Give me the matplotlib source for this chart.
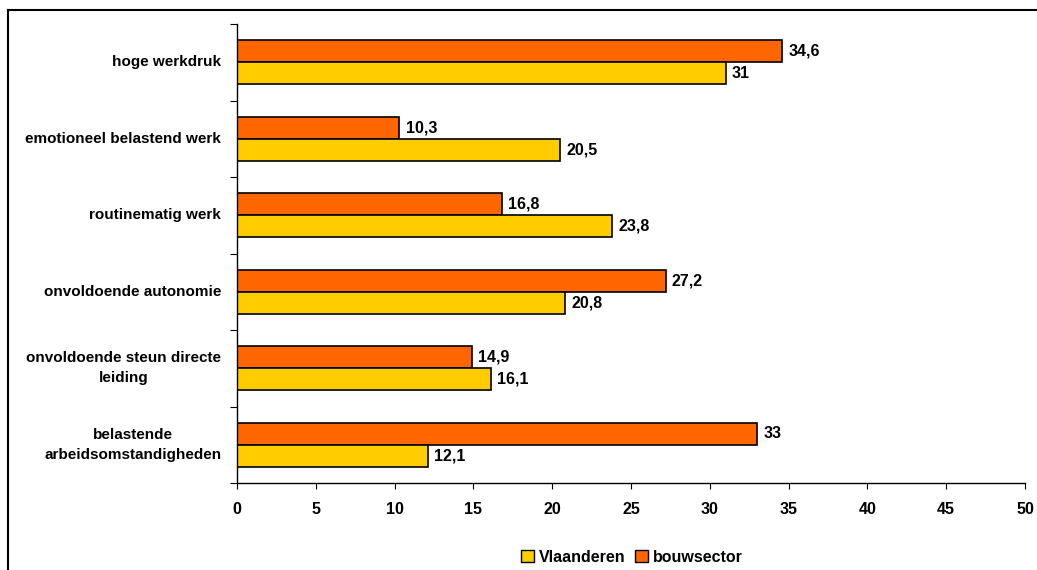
import matplotlib
matplotlib.use("Agg")
import matplotlib.pyplot as plt
from matplotlib.lines import Line2D
from matplotlib.patches import Patch
import numpy as np

categories = [
    "hoge werkdruk",
    "emotioneel belastend werk",
    "routinematig werk",
    "onvoldoende autonomie",
    "onvoldoende steun directe\nleiding",
    "belastende\narbeidsomstandigheden",
]
vlaanderen = [31, 20.5, 23.8, 20.8, 16.1, 12.1]
bouwsector = [34.6, 10.3, 16.8, 27.2, 14.9, 33]
x_ticks = [0, 5, 10, 15, 20, 25, 30, 35, 40, 45, 50]

YELLOW = "#FFCC00"
ORANGE = "#FF6600"

plt.rcParams["font.family"] = ["Liberation Sans Narrow", "Liberation Sans", "DejaVu Sans"]
plt.rcParams["font.weight"] = "bold"


def fmt(v):
    s = f"{v:g}"
    return s.replace(".", ",")


fig = plt.figure(figsize=(10.37, 5.70), dpi=100)
ax = fig.add_axes([237 / 1037, 1 - 483 / 570, (1025 - 237) / 1037, (483 - 24) / 570])

n = len(categories)
pos = np.arange(n)[::-1]
h = 0.29
ax.barh(pos + h / 2, bouwsector, height=h, color=ORANGE, edgecolor="black", linewidth=1.2)
ax.barh(pos - h / 2, vlaanderen, height=h, color=YELLOW, edgecolor="black", linewidth=1.2)

for p, v in zip(pos, bouwsector):
    ax.text(v + 0.4, p + h / 2, fmt(v), va="center", ha="left", fontsize=11.5, fontweight="bold")
for p, v in zip(pos, vlaanderen):
    ax.text(v + 0.4, p - h / 2, fmt(v), va="center", ha="left", fontsize=11.5, fontweight="bold")

ax.set_xlim(0, 50)
ax.set_ylim(-0.5, n - 0.5)
ax.set_xticks(x_ticks)
ax.set_xticklabels([str(t) for t in x_ticks], fontsize=11.5, fontweight="bold")
ax.tick_params(axis="x", direction="out", length=4, pad=10)

# category ticks sit between groups, labels at group centres
ax.set_yticks(np.arange(-0.5, n, 1.0))
ax.set_yticklabels([])
ax.tick_params(axis="y", direction="out", length=5)
for p, c in zip(pos, categories):
    ax.text(-1.0, p, c, ha="right", va="center", multialignment="center",
            fontsize=11, fontweight="bold", linespacing=1.5)

for s in ["top", "right"]:
    ax.spines[s].set_visible(False)
for s in ["left", "bottom"]:
    ax.spines[s].set_linewidth(1.0)

handles = [
    Patch(facecolor=YELLOW, edgecolor="black", label="Vlaanderen"),
    Patch(facecolor=ORANGE, edgecolor="black", label="bouwsector"),
]
fig.legend(handles=handles, loc="center", bbox_to_anchor=(632 / 1037, 1 - 557 / 570),
           ncol=2, frameon=False, handlelength=0.8, handleheight=0.8,
           handletextpad=0.3, columnspacing=0.6, prop={"weight": "bold", "size": 11.5})

# outer frame (left and top edges visible in the crop)
fig.add_artist(Line2D([8 / 1037, 8 / 1037], [0, 1 - 10 / 570], transform=fig.transFigure,
                      color="black", linewidth=1.5))
fig.add_artist(Line2D([8 / 1037, 1], [1 - 10 / 570, 1 - 10 / 570], transform=fig.transFigure,
                      color="black", linewidth=1.5))

fig.savefig("out.png", dpi=100)
